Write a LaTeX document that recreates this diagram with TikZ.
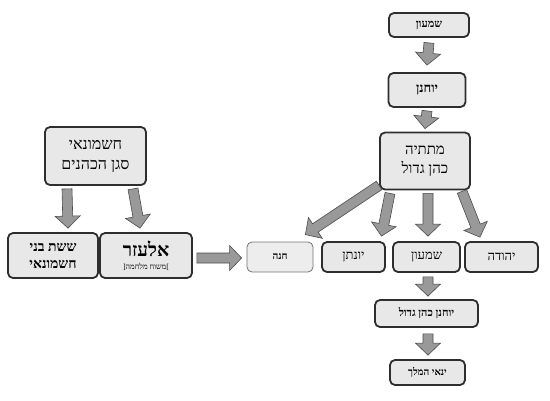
\documentclass[tikz,border=0pt]{standalone}
\usepackage{fontspec}
\setmainfont{Liberation Serif}[Script=Hebrew]
\TeXXeTstate=1
\usetikzlibrary{calc}
\newcommand{\heb}[1]{\beginR #1\endR}
\newcommand{\fs}[2]{\fontsize{#1}{#2}\selectfont}
\tikzset{
  box/.style={draw=black!82, line width=1.8pt, fill=black!9, rounded corners=5pt, inner sep=0pt, align=center},
  lightbox/.style={draw=black!55, line width=0.8pt, fill=black!7, rounded corners=5pt, inner sep=0pt, align=center},
  arrowblk/.style={fill=black!40, draw=black!70, line width=0.6pt, line join=miter},
}
\newcommand{\barrow}[2]{%
  \coordinate (ba) at #1; \coordinate (bb) at #2;
  \coordinate (bc) at ($(bb)!12pt!(ba)$);
  \filldraw[arrowblk] ($(ba)!5pt!90:(bb)$) -- ($(bc)!5pt!-90:(ba)$) -- ($(bc)!12.5pt!-90:(ba)$) -- (bb) -- ($(bc)!12.5pt!90:(ba)$) -- ($(bc)!5pt!90:(ba)$) -- ($(ba)!5pt!-90:(bb)$) -- cycle;}
\begin{document}
\begin{tikzpicture}[x=1pt,y=-1pt]
\useasboundingbox (0,0) rectangle (550,400);
% right column
\node[box, minimum width=80pt, minimum height=24pt, font=\fs{11}{13}\bfseries] (s1) at (429,25) {\heb{שמעון}};
\node[box, minimum width=77pt, minimum height=34pt, font=\fs{13}{15}\bfseries] (y1) at (427,90) {\heb{יוחנן}};
\node[box, minimum width=90pt, minimum height=57pt, font=\fs{15}{18}] (m) at (425,161) {\heb{מתתיה}\\[1pt]\heb{כהן גדול}};
\node[lightbox, minimum width=66pt, minimum height=30pt, font=\fs{10}{12}\bfseries] (ch) at (280,257) {\heb{חנה}};
\node[box, minimum width=63pt, minimum height=30pt, font=\fs{13}{15}] (yo) at (353.5,257) {\heb{יונתן}};
\node[box, minimum width=67pt, minimum height=30pt, font=\fs{13}{15}] (sh) at (426.5,257) {\heb{שמעון}};
\node[box, minimum width=73pt, minimum height=30pt, font=\fs{13}{15}] (ye) at (501.5,257) {\heb{יהודה}};
\node[box, minimum width=103pt, minimum height=27pt, font=\fs{11}{13}\bfseries] (yc) at (426.5,313.5) {\heb{יוחנן כהן גדול}};
\node[box, minimum width=75pt, minimum height=25pt, font=\fs{10}{12}\bfseries] (ya) at (427.5,372.5) {\heb{ינאי המלך}};
% left part
\node[box, minimum width=101pt, minimum height=58pt, font=\fs{16}{19}] (ha) at (95.5,156) {\heb{חשמונאי}\\[1pt]\heb{סגן הכהנים}};
\node[box, minimum width=90pt, minimum height=45pt, font=\fs{14}{17}\bfseries] (ss) at (53,255.5) {\heb{ששת בני}\\\heb{חשמונאי}};
\node[box, minimum width=92pt, minimum height=45pt, align=center] (el) at (146,255.5) {{\fs{19}{21}\bfseries\heb{אלעזר}}\\[1pt]{\fs{7.8}{10}[\heb{משוח מלחמה}]}};
% arrows
\barrow{($(s1.south)+(0,5)$)}{($(y1.north)+(0,-7)$)}
\barrow{($(y1.south)+(0,3)$)}{($(m.north)+(0,-3)$)}
\barrow{($(m.south west)+(0,-5)$)}{($(ch.north east)+(-8,-7)$)}
\barrow{($(m.south)+(-35,3)$)}{($(yo.north)+(28,-5)$)}
\barrow{($(m.south)+(3,3)$)}{($(sh.north)+(1.5,-5)$)}
\barrow{($(m.south)+(37,1)$)}{($(ye.north)+(-21.5,-4)$)}
\barrow{($(sh.south)+(1.5,4)$)}{($(yc.north)+(1.5,-3)$)}
\barrow{($(yc.south)+(1.5,6)$)}{($(ya.north)+(0.5,-4)$)}
\barrow{($(ha.south)+(-28.5,3)$)}{($(ss.north)+(15,-4)$)}
\barrow{($(ha.south)+(37.5,3)$)}{($(el.north)+(-6,-4)$)}
\barrow{($(el.east)+(4,2.5)$)}{($(ch.west)+(-5,1)$)}
\end{tikzpicture}
\end{document}
